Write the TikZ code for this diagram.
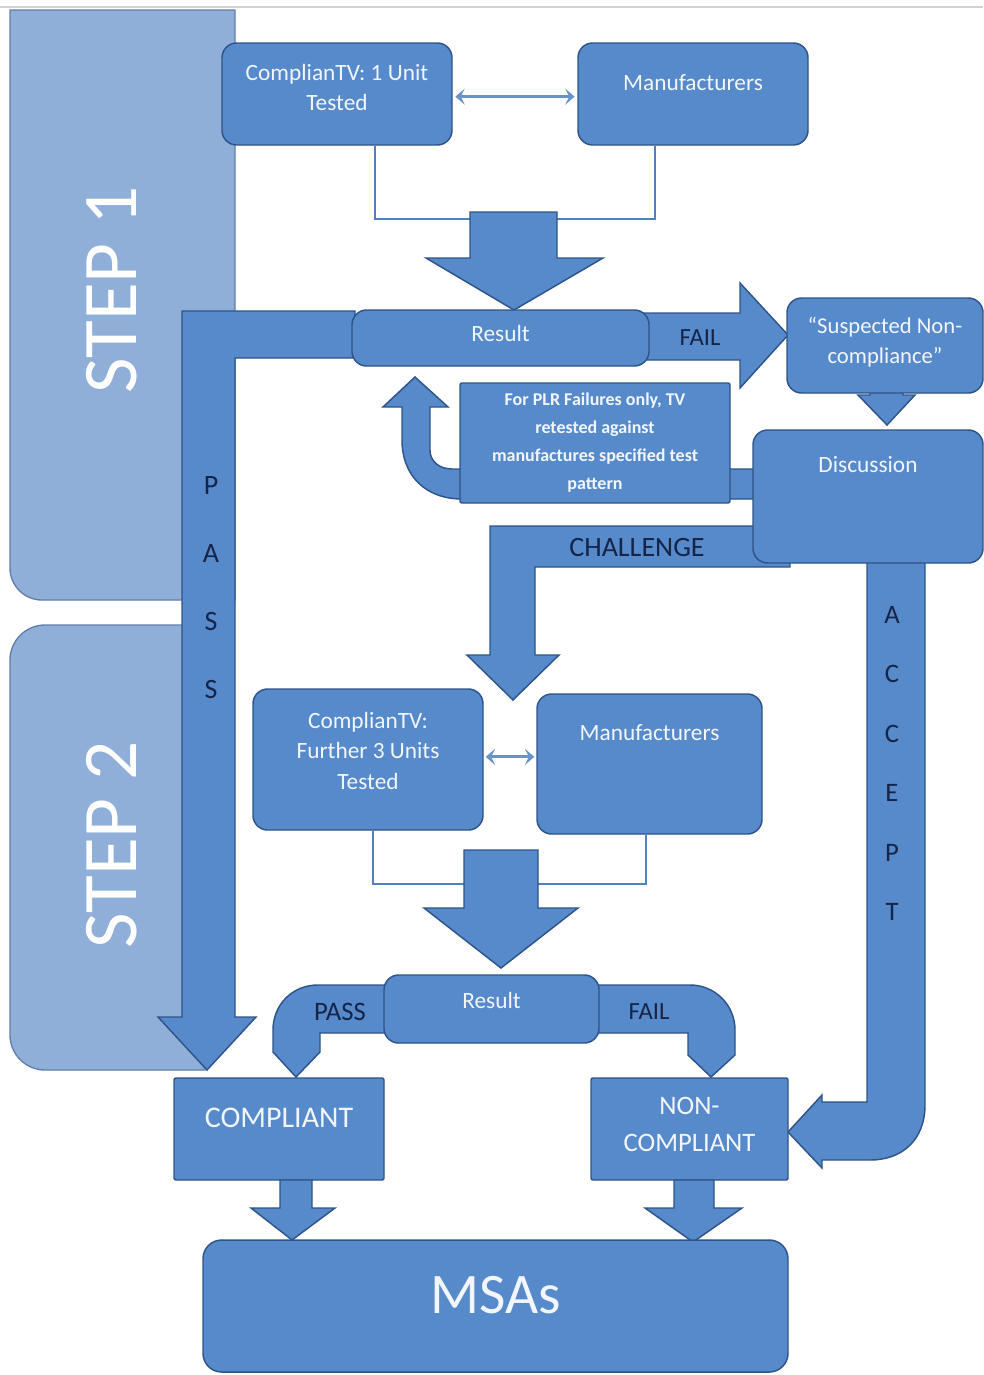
\documentclass[tikz,border=0pt]{standalone}
\usepackage{fontspec}
\setmainfont{Carlito}
\usetikzlibrary{arrows.meta,calc}
\definecolor{boxfill}{RGB}{86,138,203}
\definecolor{boxline}{RGB}{47,84,138}
\definecolor{panelfill}{RGB}{143,175,217}
\definecolor{panelline}{RGB}{96,126,170}
\definecolor{darktxt}{RGB}{22,36,72}
\definecolor{linkcol}{RGB}{79,129,189}
\definecolor{dblcol}{RGB}{104,146,202}
\definecolor{boxtxt}{RGB}{242,246,252}
\tikzset{
  box/.style={draw=boxline, line width=1.1pt, fill=boxfill, rounded corners=11pt, inner sep=0pt},
  sqbox/.style={draw=boxline, line width=1.1pt, fill=boxfill, rounded corners=1.5pt, inner sep=0pt},
  btxt/.style={text=boxtxt, align=center, inner sep=0pt, font=\fontsize{17.5}{23}\selectfont},
  dtxt/.style={text=darktxt, align=center, inner sep=0pt},
  blockarrow/.style={draw=boxline, line width=1.1pt, fill=boxfill, line join=miter},
  panel/.style={draw=panelline, line width=1pt, fill=panelfill},
  link/.style={draw=linkcol, line width=1.3pt},
  dbl/.style={draw=dblcol, line width=2.2pt, arrows={Stealth[length=7pt,width=12pt,inset=3pt]-Stealth[length=7pt,width=12pt,inset=3pt]}},
}
\begin{document}
\begin{tikzpicture}[x=0.75pt,y=-0.75pt]
\useasboundingbox (0,0) rectangle (983,1375);
\fill[white] (0,0) rectangle (983,1375);
\draw[gray!35, line width=1.5pt] (0,7) -- (983,7);

% step panels
\draw[panel] (10,10) -- (235,10) -- (235,600) -- (42,600) arc[start angle=90, end angle=180, radius=32] -- cycle;
\draw[panel] (10,660) arc[start angle=180, end angle=270, radius=35] -- (205,625) -- (205,1070) -- (45,1070) arc[start angle=90, end angle=180, radius=35] -- cycle;
\node[rotate=90, text=white, font=\fontsize{58}{60}\selectfont, inner sep=0pt] (s1) at (112,290) {STEP 1};
\node[rotate=90, text=white, font=\fontsize{58}{60}\selectfont, inner sep=0pt] (s2) at (112,845) {STEP 2};

% step 1 boxes
\node[box, minimum width=172.5pt, minimum height=76.5pt] (A) at (337,94) {};
\node[btxt] (At) at ([yshift=4.9pt]A.center) {ComplianTV: 1 Unit\\Tested};
\node[box, minimum width=172.5pt, minimum height=76.5pt] (B) at (693,94) {};
\node[btxt] (Bt) at ([yshift=8.25pt]B.center) {Manufacturers};
\draw[dbl, shorten <=2pt, shorten >=2pt] ([yshift=-2pt]A.east) -- ([yshift=-2pt]A.east -| B.west);
\draw[link] ($(A.south)+(38,0)$) -- ++(0,73) -| ($(B.south)+(-38,0)$);

% PASS arrow
\draw[blockarrow] (355,311) -- (182,311) -- (182,1017) -- (158,1017) -- (207,1070) -- (256,1017) -- (235,1017) -- (235,358) -- (355,358) -- cycle;
\node[dtxt, font=\fontsize{21}{51}\selectfont] (passv) at (211,587.5) {P\\A\\S\\S};
% FAIL arrow
\draw[blockarrow] (640,313) -- (740,313) -- (740,283) -- (788,335) -- (740,388) -- (740,360) -- (640,360) -- cycle;
\node[dtxt, font=\fontsize{18.5}{20}\selectfont] (fail1) at (700,338) {FAIL};
% big arrow 1
\draw[blockarrow] (470,212) -- (557,212) -- (557,258) -- (603,258) -- (514,310) -- (426,258) -- (470,258) -- cycle;

\node[box, minimum width=222.75pt, minimum height=42pt] (R1) at (500.5,338) {};
\node[btxt] (R1t) at ([yshift=3.75pt]R1.center) {Result};

% U-turn arrow
\draw[blockarrow] (755,499) -- (462,499) .. controls (426,499) and (402,476) .. (402,440) -- (402,407) -- (383,407) -- (415,377) -- (448,407) -- (430,407) -- (430,450) .. controls (430,462) and (440,469) .. (452,469) -- (755,469) -- cycle;
\node[sqbox, minimum width=202.5pt, minimum height=90pt] (P) at (595,443) {};
\node[btxt, font=\bfseries\fontsize{13.5}{21}\selectfont] (Pt) at (P.center) {For PLR Failures only, TV\\retested against\\manufactures specified test\\pattern};

% CHALLENGE arrow
\draw[blockarrow] (790,526) -- (490,526) -- (490,655) -- (467,655) -- (513,700) -- (559,655) -- (535,655) -- (535,567) -- (790,567) -- cycle;
\node[dtxt, font=\fontsize{21}{22}\selectfont] (chal) at (637,548) {CHALLENGE};

% ACCEPT arrow
\draw[blockarrow] (867,560) -- (867,1102) -- (822,1102) -- (822,1095) -- (788,1132) -- (822,1168) -- (822,1160) -- (870,1160) .. controls (902,1160) and (925,1140) .. (925,1105) -- (925,560) -- cycle;
\node[dtxt, font=\fontsize{20}{44.6}\selectfont] (acc) at (892,763.5) {A\\C\\C\\E\\P\\T};

% small arrow suspected -> discussion
\draw[blockarrow] (870,388) -- (903,388) -- (903,395) -- (915,395) -- (887,425) -- (858,395) -- (870,395) -- cycle;
\node[box, minimum width=147pt, minimum height=71.25pt] (S) at (885,345.5) {};
\node[btxt, font=\fontsize{17}{22.5}\selectfont] (St) at ([yshift=2.6pt]S.center) {“Suspected Non-\\compliance”};
\node[box, minimum width=172.5pt, minimum height=99.75pt] (D1) at (868,496.5) {};
\node[btxt] (D1t) at ([yshift=23.6pt]D1.center) {Discussion};

% step 2 boxes
\node[box, minimum width=172.5pt, minimum height=105.75pt] (C) at (368,759.5) {};
\node[btxt] (Ct) at ([yshift=6.4pt]C.center) {ComplianTV:\\Further 3 Units\\Tested};
\node[box, minimum width=168.75pt, minimum height=105pt] (D) at (649.5,764) {};
\node[btxt] (Dt) at ([yshift=23.25pt]D.center) {Manufacturers};
\draw[dbl, shorten <=1.5pt, shorten >=1.5pt] ([yshift=2pt]C.east) -- ([yshift=2pt]C.east -| D.west);
\draw[link] ($(C.south)+(5,0)$) -- ++(0,53) -| ($(D.south)+(-3.5,0)$);
% big arrow 2
\draw[blockarrow] (464,850) -- (538,850) -- (538,908) -- (578,908) -- (501,968) -- (424,908) -- (464,908) -- cycle;

% PASS / FAIL curved arrows
\draw[blockarrow] (395,985) -- (318,985) .. controls (292,985) and (273,1005) .. (273,1030) -- (273,1052) -- (296,1077) -- (320,1052) -- (320,1033) -- (395,1033) -- cycle;
\draw[blockarrow] (590,985) -- (690,985) .. controls (715,985) and (735,1005) .. (735,1030) -- (735,1055) -- (711,1077) -- (688,1055) -- (688,1033) -- (590,1033) -- cycle;
\node[dtxt, font=\fontsize{20}{22}\selectfont] (pass2) at (340,1012) {PASS};
\node[dtxt, font=\fontsize{18.5}{20}\selectfont] (fail2) at (649,1012) {FAIL};
\node[box, minimum width=161.25pt, minimum height=51pt] (R2) at (491.5,1009) {};
\node[btxt] (R2t) at ([yshift=6.75pt]R2.center) {Result};

% outcome boxes
\node[sqbox, minimum width=157.5pt, minimum height=76.5pt] (CO) at (279,1129) {};
\node[btxt, font=\fontsize{22.5}{25}\selectfont] (COt) at ([yshift=8.25pt]CO.center) {COMPLIANT};
\node[sqbox, minimum width=147.75pt, minimum height=76.5pt] (NC) at (689.5,1129) {};
\node[btxt, font=\fontsize{20}{28}\selectfont] (NCt) at ([yshift=3.4pt]NC.center) {NON-\\COMPLIANT};

% arrows to MSAs
\draw[blockarrow] (280,1180) -- (312,1180) -- (312,1208) -- (335,1208) -- (292,1240) -- (251,1208) -- (280,1208) -- cycle;
\draw[blockarrow] (674,1180) -- (714,1180) -- (714,1208) -- (742,1208) -- (693,1242) -- (645,1208) -- (674,1208) -- cycle;
\node[box, minimum width=438.75pt, minimum height=99pt, rounded corners=14pt] (M) at (495.5,1306) {};
\node[btxt, font=\fontsize{43}{45}\selectfont] (Mt) at ([yshift=8.25pt]M.center) {MSAs};
\end{tikzpicture}
\end{document}
